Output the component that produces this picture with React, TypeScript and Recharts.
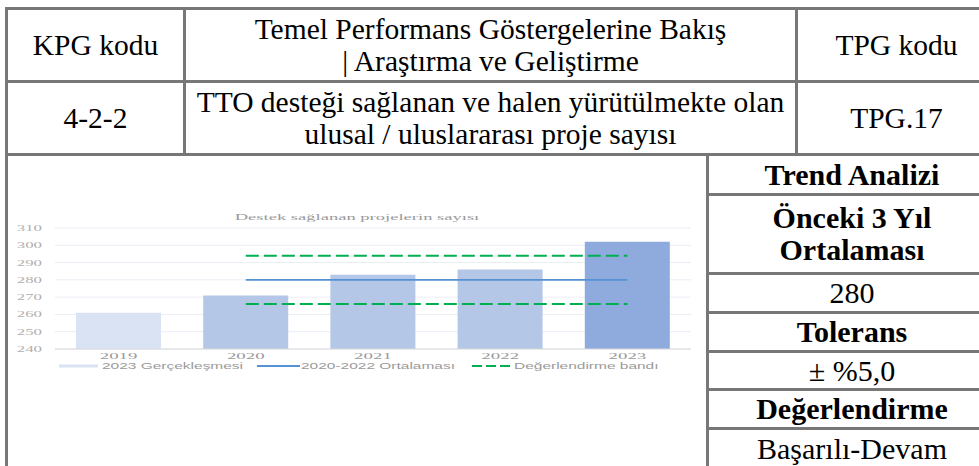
import {
  Bar,
  CartesianGrid,
  Cell,
  ComposedChart,
  Legend,
  Line,
  XAxis,
  YAxis,
} from "recharts";

// chart values
const years = ["2019", "2020", "2021", "2022", "2023"];
const projects = [261, 271, 283, 286, 302];
const average = [null, 280, 280, 280, 280];
const bandUpper = [null, 294, 294, 294, 294];
const bandLower = [null, 266, 266, 266, 266];
const yTicks = [240, 250, 260, 270, 280, 290, 300, 310];

const chartTitle = "Destek sağlanan projelerin sayısı";
const projectsName = "2023 Gerçekleşmesi";
const averageName = "2020-2022 Ortalaması";
const bandName = "Değerlendirme bandı";
const legendOrder = [projectsName, averageName, bandName];

// table texts
const headerRow = [
  "KPG kodu",
  "Temel Performans Göstergelerine Bakış\n| Araştırma ve Geliştirme",
  "TPG kodu",
];
const indicatorRow = [
  "4-2-2",
  "TTO desteği sağlanan ve halen yürütülmekte olan\nulusal / uluslararası proje sayısı",
  "TPG.17",
];
const sideTexts = [
  "Trend Analizi",
  "Önceki 3 Yıl\nOrtalaması",
  "280",
  "Tolerans",
  "± %5,0",
  "Değerlendirme",
  "Başarılı-Devam",
];
const sideBold = [true, true, false, true, false, true, false];

const barColors = ["#dae3f3", "#b4c7e7", "#b4c7e7", "#b4c7e7", "#8faadc"];

const data = years.map((year, i) => ({
  year,
  projects: projects[i],
  average: average[i],
  bandUpper: bandUpper[i],
  bandLower: bandLower[i],
}));

// layout of the table grid (page px)
const colX = [6, 184, 796, 996];
const rowY = [8, 81, 154];
const sideX = 707;
const sideY = [154, 194, 273, 312, 351, 389, 428, 468];
const lineColor = "#777";
const textGray = "#9a9a9a";
const tickGray = "#b0b0b0";
const serif = "'Liberation Serif', serif";
const sans = "'Liberation Sans', sans-serif";

// legend layout: symbol start, symbol length, text start
const legendSlots = [
  { x: 59, w: 39, tx: 102 },
  { x: 257, w: 43, tx: 301 },
  { x: 472, w: 40, tx: 514 },
];

const HLine = ({ y, x1, x2 }: { y: number; x1: number; x2: number }) => (
  <div
    style={{
      position: "absolute",
      left: x1 - 1,
      top: y - 1,
      width: x2 - x1 + 3,
      height: 3,
      background: lineColor,
    }}
  />
);

const VLine = ({ x, y1, y2 }: { x: number; y1: number; y2: number }) => (
  <div
    style={{
      position: "absolute",
      left: x - 1,
      top: y1 - 1,
      width: 3,
      height: y2 - y1 + 3,
      background: lineColor,
    }}
  />
);

const TextCell = ({
  x1,
  x2,
  y1,
  y2,
  text,
  bold,
  size = 30,
}: {
  x1: number;
  x2: number;
  y1: number;
  y2: number;
  text: string;
  bold?: boolean;
  size?: number;
}) => (
  <div
    style={{
      position: "absolute",
      left: x1 + 2,
      top: y1 + 2,
      width: x2 - x1 - 3,
      height: y2 - y1 - 3,
      display: "flex",
      alignItems: "center",
      justifyContent: "center",
      textAlign: "center",
      whiteSpace: "pre",
      fontFamily: serif,
      fontSize: size,
      lineHeight: "32px",
      fontWeight: bold ? 700 : 400,
      color: "#000",
    }}
  >
    {text}
  </div>
);

const XTick = ({ x, y, payload }: any) => (
  <text
    transform={`translate(${x},${y}) scale(2.1,1)`}
    dy={7}
    textAnchor="middle"
    fill={textGray}
    fontSize={9}
    fontFamily={serif}
  >
    {payload.value}
  </text>
);

const YTick = ({ x, y, payload }: any) => (
  <text
    transform={`translate(${x},${y}) scale(2.1,1)`}
    dy={3}
    textAnchor="end"
    fill={tickGray}
    fontSize={8}
    fontFamily={serif}
  >
    {payload.value}
  </text>
);

const LegendContent = ({ payload }: any) => {
  const items = legendOrder
    .map((name) => (payload || []).find((p: any) => p.value === name))
    .filter(Boolean);
  return (
    <svg width={720} height={14} style={{ display: "block" }}>
      {items.map((p: any, i: number) => {
        const slot = legendSlots[i];
        return (
          <g key={p.value}>
            <line
              x1={slot.x}
              x2={slot.x + slot.w}
              y1={7}
              y2={7}
              stroke={p.color}
              strokeWidth={p.dataKey === "projects" ? 3 : p.dataKey === "average" ? 1.8 : 2}
              strokeDasharray={p.dataKey === "bandUpper" ? "10 4" : undefined}
            />
            <text
              transform={`translate(${slot.tx},10) scale(1.72,1)`}
              fill={textGray}
              fontSize={9}
              fontFamily={sans}
            >
              {p.value}
            </text>
          </g>
        );
      })}
    </svg>
  );
};

export default function App() {
  return (
    <div
      style={{
        position: "fixed",
        left: 0,
        top: 0,
        width: 979,
        height: 466,
        overflow: "hidden",
        background: "#fff",
      }}
    >
      {headerRow.map((t, j) => (
        <TextCell
          key={"h" + j}
          x1={colX[j]}
          x2={colX[j + 1]}
          y1={rowY[0]}
          y2={rowY[1]}
          text={t}
          size={29.5}
        />
      ))}
      {indicatorRow.map((t, j) => (
        <TextCell
          key={"i" + j}
          x1={colX[j]}
          x2={colX[j + 1]}
          y1={rowY[1]}
          y2={rowY[2]}
          text={t}
          size={29.5}
        />
      ))}
      {sideTexts.map((t, k) => (
        <TextCell
          key={"s" + k}
          x1={sideX}
          x2={colX[3]}
          y1={sideY[k]}
          y2={sideY[k + 1]}
          text={t}
          bold={sideBold[k]}
        />
      ))}

      <div
        style={{
          position: "absolute",
          left: 0,
          top: 212,
          width: 714,
          textAlign: "center",
          fontFamily: serif,
          fontSize: 9,
          color: textGray,
          whiteSpace: "nowrap",
          transform: "scaleX(2.06)",
          transformOrigin: "357px 50%",
        }}
      >
        {chartTitle}
      </div>

      <div style={{ position: "absolute", left: 0, top: 200 }}>
        <ComposedChart
          width={720}
          height={183}
          data={data}
          margin={{ top: 28, right: 29, bottom: 10, left: 0 }}
        >
          <CartesianGrid vertical={false} stroke="#e9eef5" />
          <XAxis
            dataKey="year"
            height={10}
            tickLine={false}
            tickSize={0}
            tickMargin={3}
            axisLine={{ stroke: "#d9d9d9" }}
            tick={<XTick />}
            interval={0}
          />
          <YAxis
            width={55}
            domain={[240, 310]}
            ticks={yTicks}
            interval={0}
            axisLine={false}
            tickLine={false}
            tickSize={0}
            tickMargin={13}
            tick={<YTick />}
          />
          <Legend
            verticalAlign="bottom"
            content={<LegendContent />}
            wrapperStyle={{ left: 0, width: 720, height: 14 }}
          />
          <Bar
            dataKey="projects"
            name={projectsName}
            fill={barColors[0]}
            barSize={85}
            isAnimationActive={false}
          >
            {data.map((d, i) => (
              <Cell key={d.year} fill={barColors[i]} />
            ))}
          </Bar>
          <Line
            type="linear"
            dataKey="average"
            name={averageName}
            stroke="#5592d4"
            strokeWidth={1.8}
            dot={false}
            activeDot={false}
            isAnimationActive={false}
          />
          <Line
            type="linear"
            dataKey="bandUpper"
            name={bandName}
            stroke="#00b050"
            strokeWidth={2}
            strokeDasharray="13 5"
            dot={false}
            activeDot={false}
            isAnimationActive={false}
          />
          <Line
            type="linear"
            dataKey="bandLower"
            name="bandLower"
            legendType="none"
            stroke="#00b050"
            strokeWidth={2}
            strokeDasharray="13 5"
            dot={false}
            activeDot={false}
            isAnimationActive={false}
          />
        </ComposedChart>
      </div>

      <HLine y={rowY[0]} x1={colX[0]} x2={colX[3]} />
      <HLine y={rowY[1]} x1={colX[0]} x2={colX[3]} />
      <HLine y={rowY[2]} x1={colX[0]} x2={colX[3]} />
      {sideY.slice(1, -1).map((y) => (
        <HLine key={y} y={y} x1={sideX} x2={colX[3]} />
      ))}
      <VLine x={colX[0]} y1={rowY[0]} y2={470} />
      <VLine x={colX[1]} y1={rowY[0]} y2={rowY[2]} />
      <VLine x={colX[2]} y1={rowY[0]} y2={rowY[2]} />
      <VLine x={sideX} y1={rowY[2]} y2={470} />
    </div>
  );
}
